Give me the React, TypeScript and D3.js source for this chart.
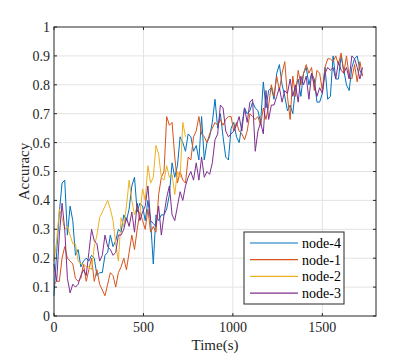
import * as d3 from 'd3';

// sampled every 15 s
const STEP = 15;

const node4 = [
  0.07, 0.22, 0.36, 0.46, 0.47, 0.28, 0.38, 0.33, 0.21, 0.23, 0.17, 0.19, 0.20, 0.19, 0.21, 0.20,
  0.14, 0.15, 0.15, 0.21, 0.22, 0.28, 0.24, 0.26, 0.30, 0.29, 0.35, 0.33, 0.37, 0.45, 0.48, 0.36,
  0.39, 0.38, 0.33, 0.40, 0.33, 0.18, 0.35, 0.33, 0.35, 0.35, 0.37, 0.42, 0.53, 0.48, 0.52, 0.62,
  0.60, 0.57, 0.63, 0.62, 0.57, 0.59, 0.54, 0.69, 0.54, 0.60, 0.62, 0.67, 0.75, 0.65, 0.70, 0.62,
  0.55, 0.54, 0.65, 0.67, 0.62, 0.60, 0.66, 0.72, 0.70, 0.71, 0.74, 0.72, 0.71, 0.67, 0.81, 0.72,
  0.78, 0.79, 0.75, 0.84, 0.87, 0.80, 0.76, 0.71, 0.73, 0.70, 0.79, 0.82, 0.76, 0.84, 0.86, 0.80,
  0.84, 0.82, 0.74, 0.74, 0.77, 0.86, 0.75, 0.76, 0.90, 0.82, 0.82, 0.90, 0.85, 0.80, 0.78, 0.86,
  0.89, 0.90, 0.85, 0.83,
];

const node1 = [
  0.11, 0.12, 0.12, 0.20, 0.24, 0.20, 0.19, 0.18, 0.13, 0.12, 0.13, 0.18, 0.12, 0.16, 0.20, 0.12,
  0.16, 0.11, 0.09, 0.07, 0.11, 0.15, 0.14, 0.10, 0.15, 0.17, 0.20, 0.16, 0.22, 0.28, 0.23, 0.30,
  0.36, 0.33, 0.30, 0.37, 0.29, 0.31, 0.29, 0.42, 0.48, 0.50, 0.69, 0.66, 0.67, 0.55, 0.46, 0.50,
  0.47, 0.46, 0.55, 0.54, 0.62, 0.64, 0.69, 0.63, 0.62, 0.60, 0.63, 0.65, 0.67, 0.66, 0.68, 0.66,
  0.68, 0.69, 0.69, 0.64, 0.67, 0.64, 0.63, 0.61, 0.64, 0.70, 0.69, 0.68, 0.69, 0.66, 0.72, 0.68,
  0.73, 0.80, 0.76, 0.83, 0.78, 0.84, 0.88, 0.76, 0.68, 0.83, 0.76, 0.85, 0.80, 0.84, 0.87, 0.84,
  0.86, 0.78, 0.85, 0.84, 0.78, 0.86, 0.89, 0.89, 0.88, 0.90, 0.87, 0.91, 0.84, 0.90, 0.83, 0.82,
  0.87, 0.81, 0.88, 0.83,
];

const node2 = [
  0.19, 0.26, 0.37, 0.34, 0.30, 0.31, 0.28, 0.25, 0.25, 0.19, 0.18, 0.18, 0.17, 0.17, 0.16, 0.24,
  0.28, 0.34, 0.36, 0.38, 0.40, 0.37, 0.33, 0.25, 0.19, 0.34, 0.31, 0.38, 0.47, 0.40, 0.35, 0.38,
  0.35, 0.44, 0.40, 0.52, 0.46, 0.48, 0.59, 0.56, 0.48, 0.47, 0.52, 0.48, 0.49, 0.42, 0.50, 0.48,
  0.67, 0.62,
];

const node3 = [
  0.18, 0.12, 0.28, 0.39, 0.30, 0.13, 0.08, 0.11, 0.10, 0.11, 0.14, 0.16, 0.14, 0.22, 0.30, 0.26,
  0.25, 0.19, 0.21, 0.28, 0.24, 0.23, 0.21, 0.22, 0.28, 0.28, 0.30, 0.34, 0.31, 0.36, 0.29, 0.39,
  0.33, 0.36, 0.38, 0.45, 0.33, 0.32, 0.31, 0.38, 0.28, 0.35, 0.41, 0.45, 0.35, 0.33, 0.38, 0.43,
  0.40, 0.45, 0.48, 0.50, 0.47, 0.53, 0.47, 0.55, 0.48, 0.50, 0.49, 0.53, 0.61, 0.63, 0.73, 0.72,
  0.64, 0.62, 0.63, 0.64, 0.66, 0.69, 0.64, 0.72, 0.67, 0.74, 0.75, 0.57, 0.64, 0.67, 0.63, 0.78,
  0.68, 0.73, 0.73, 0.76, 0.79, 0.74, 0.78, 0.77, 0.82, 0.76, 0.80, 0.74, 0.83, 0.80, 0.83, 0.75,
  0.84, 0.80, 0.76, 0.79, 0.77, 0.84, 0.86, 0.85, 0.86, 0.82, 0.88, 0.85, 0.84, 0.86, 0.82, 0.90,
  0.89, 0.86, 0.82, 0.86,
];

// draw order: node-4 first, node-3 last (on top)
const series = [
  { name: 'node-4', values: node4, color: '#0072BD' },
  { name: 'node-1', values: node1, color: '#D95319' },
  { name: 'node-2', values: node2, color: '#EDB120' },
  { name: 'node-3', values: node3, color: '#7E2F8E' },
];

const xTicks = [0, 500, 1000, 1500];
const yTicks = [0, 0.1, 0.2, 0.3, 0.4, 0.5, 0.6, 0.7, 0.8, 0.9, 1];

const W = 415;
const H = 356;
const margin = { left: 54, top: 27, right: 39, bottom: 40 };
const FONT = '"Liberation Serif", "Times New Roman", serif';

export default function App() {
  const innerW = W - margin.left - margin.right;
  const innerH = H - margin.top - margin.bottom;

  const x = d3.scaleLinear().domain([0, 1800]).range([0, innerW]);
  const y = d3.scaleLinear().domain([0, 1]).range([innerH, 0]);

  const line = d3
    .line<number>()
    .x((_, i) => x(i * STEP))
    .y(d => y(d));

  const axisColor = '#262626';
  const gridColor = '#e3e3e3';
  const tickLen = 3;

  const legend = { x: 190, y: 205, w: 100, h: 72 };

  return (
    <svg width={W} height={H} style={{ position: 'absolute', left: 0, top: 0, background: '#fff' }}>
      <g transform={`translate(${margin.left},${margin.top})`}>
        {/* grid */}
        {yTicks.slice(1, -1).map(t => (
          <line key={'gy' + t} x1={0} x2={innerW} y1={y(t)} y2={y(t)} stroke={gridColor} strokeWidth={1} />
        ))}
        {xTicks.slice(1).map(t => (
          <line key={'gx' + t} x1={x(t)} x2={x(t)} y1={0} y2={innerH} stroke={gridColor} strokeWidth={1} />
        ))}

        {/* lines */}
        {series.map(s => (
          <path key={s.name} d={line(s.values) || ''} fill="none" stroke={s.color} strokeWidth={1} strokeLinejoin="round" />
        ))}

        {/* box */}
        <rect x={0} y={0} width={innerW} height={innerH} fill="none" stroke={axisColor} strokeWidth={1} />

        {/* ticks */}
        {yTicks.map(t => (
          <g key={'ty' + t}>
            <line x1={0} x2={tickLen} y1={y(t)} y2={y(t)} stroke={axisColor} />
            <line x1={innerW - tickLen} x2={innerW} y1={y(t)} y2={y(t)} stroke={axisColor} />
            <text x={-4} y={y(t)} dy="0.35em" textAnchor="end" fontFamily={FONT} fontSize={14} fill={axisColor}>
              {t}
            </text>
          </g>
        ))}
        {xTicks.map(t => (
          <g key={'tx' + t}>
            <line x1={x(t)} x2={x(t)} y1={innerH} y2={innerH - tickLen} stroke={axisColor} />
            <line x1={x(t)} x2={x(t)} y1={0} y2={tickLen} stroke={axisColor} />
            <text x={x(t)} y={innerH + 16} textAnchor="middle" fontFamily={FONT} fontSize={14} fill={axisColor}>
              {t}
            </text>
          </g>
        ))}

        {/* axis labels */}
        <text x={innerW / 2} y={innerH + 34} textAnchor="middle" fontFamily={FONT} fontSize={15} fill={axisColor}>
          Time(s)
        </text>
        <text
          transform={`translate(${-25},${innerH / 2}) rotate(-90)`}
          textAnchor="middle"
          fontFamily={FONT}
          fontSize={15}
          fill={axisColor}
        >
          Accuracy
        </text>

        {/* legend */}
        <g transform={`translate(${legend.x},${legend.y})`}>
          <rect width={legend.w} height={legend.h} fill="#fff" stroke={axisColor} strokeWidth={1} />
          {series.map((s, i) => (
            <g key={'lg' + s.name} transform={`translate(0,${11 + i * 16.7})`}>
              <line x1={6} x2={54} y1={0} y2={0} stroke={s.color} strokeWidth={1.2} />
              <text x={58} y={0} dy="0.35em" fontFamily={FONT} fontSize={14} fill="#000">
                {s.name}
              </text>
            </g>
          ))}
        </g>
      </g>
    </svg>
  );
}
